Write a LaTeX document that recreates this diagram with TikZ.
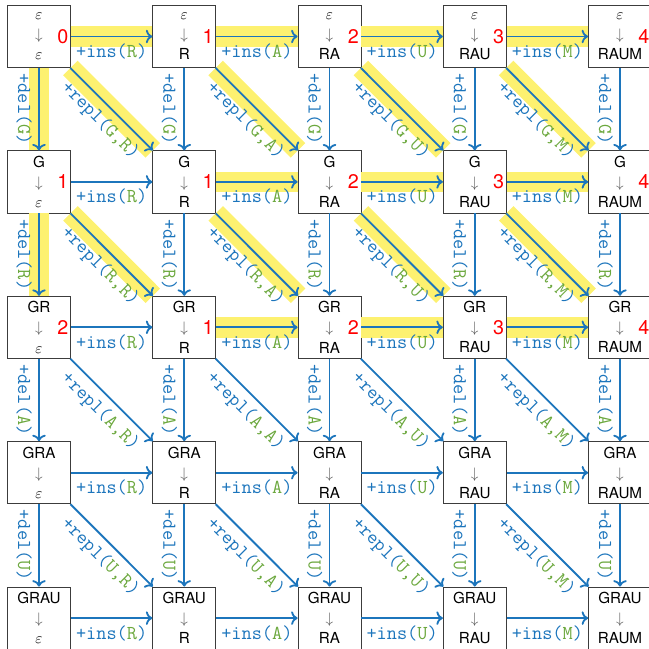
\documentclass[tikz,border=0pt]{standalone}
\usepackage{fontspec}
\setsansfont{TeX Gyre Heros}
\usepackage{tikz}
\usetikzlibrary{arrows.meta,positioning}
\definecolor{edblue}{RGB}{28,117,188}
\definecolor{edgreen}{RGB}{108,168,62}
\definecolor{edyellow}{RGB}{253,241,112}
\definecolor{edframe}{RGB}{60,60,60}
\newcommand{\opins}[1]{+ins(\textcolor{edgreen}{#1})}
\newcommand{\opdel}[1]{+del(\textcolor{edgreen}{#1})}
\newcommand{\oprepl}[2]{+repl(\textcolor{edgreen}{#1,#2})}

\begin{document}
\begin{tikzpicture}[x=0.02315cm,y=-0.02315cm,
  cell/.style={draw=edframe,fill=white,line width=0.5pt,minimum width=1.46cm,minimum height=1.44cm,inner sep=0pt,align=center,font=\sffamily\fontsize{10}{13.2}\selectfont},
  cost/.style={anchor=east,inner sep=1.5pt,text=red,font=\sffamily\fontsize{13}{13}\selectfont},
  op/.style={->,line width=1.2pt,edblue},
  hl/.style={line width=13.5pt,edyellow},
  lbl/.style={midway,below,sloped,allow upside down,inner sep=4.2pt,text=edblue,font=\ttfamily\fontsize{13}{13}\selectfont}]
\useasboundingbox (0,0) rectangle (648,649);

% states
\foreach \row/\src in {0/$\varepsilon$,1/G,2/GR,3/GRA,4/GRAU}
  \foreach \col/\tgt in {0/$\varepsilon$,1/R,2/RA,3/RAU,4/RAUM}
    \node[cell] (n\row\col) at ({39+145.25*\col},{36.5+145.4*\row}) {\src\\ \textcolor{black!65}{$\downarrow$}\\ \tgt};

% costs
\foreach \row/\col/\v in {0/0/0,0/1/1,0/2/2,0/3/3,0/4/4,1/0/1,1/1/1,1/2/2,1/3/3,1/4/4,2/0/2,2/1/1,2/2/2,2/3/3,2/4/4}
  \node[cost] (k\row\col) at (n\row\col.east) {\v};

% highlighted edges
\foreach \a/\b in {n00/n01,n01/n02,n02/n03,n03/n04,n00/n10,n10/n20,n00/n11,n01/n12,n02/n13,n03/n14,n10/n21,n11/n22,n12/n23,n13/n24,n11/n12,n12/n13,n13/n14,n21/n22,n22/n23,n23/n24}
  \draw[hl] (\a) -- (\b);

% insertions
\foreach \col/\nxt/\ch in {0/1/R,1/2/A,2/3/U,3/4/M}
  \foreach \row in {0,...,4}
    \draw[op] (n\row\col) -- node[lbl] {\opins{\ch}} (n\row\nxt);

% deletions
\foreach \row/\nxt/\ch in {0/1/G,1/2/R,2/3/A,3/4/U}
  \foreach \col in {0,...,4}
    \draw[op] (n\row\col) -- node[lbl] {\opdel{\ch}} (n\nxt\col);

% replacements
\foreach \row/\nrow/\sc in {0/1/G,1/2/R,2/3/A,3/4/U}
  \foreach \col/\ncol/\tc in {0/1/R,1/2/A,2/3/U,3/4/M}
    \draw[op] (n\row\col) -- node[lbl] {\oprepl{\sc}{\tc}} (n\nrow\ncol);
\end{tikzpicture}
\end{document}
